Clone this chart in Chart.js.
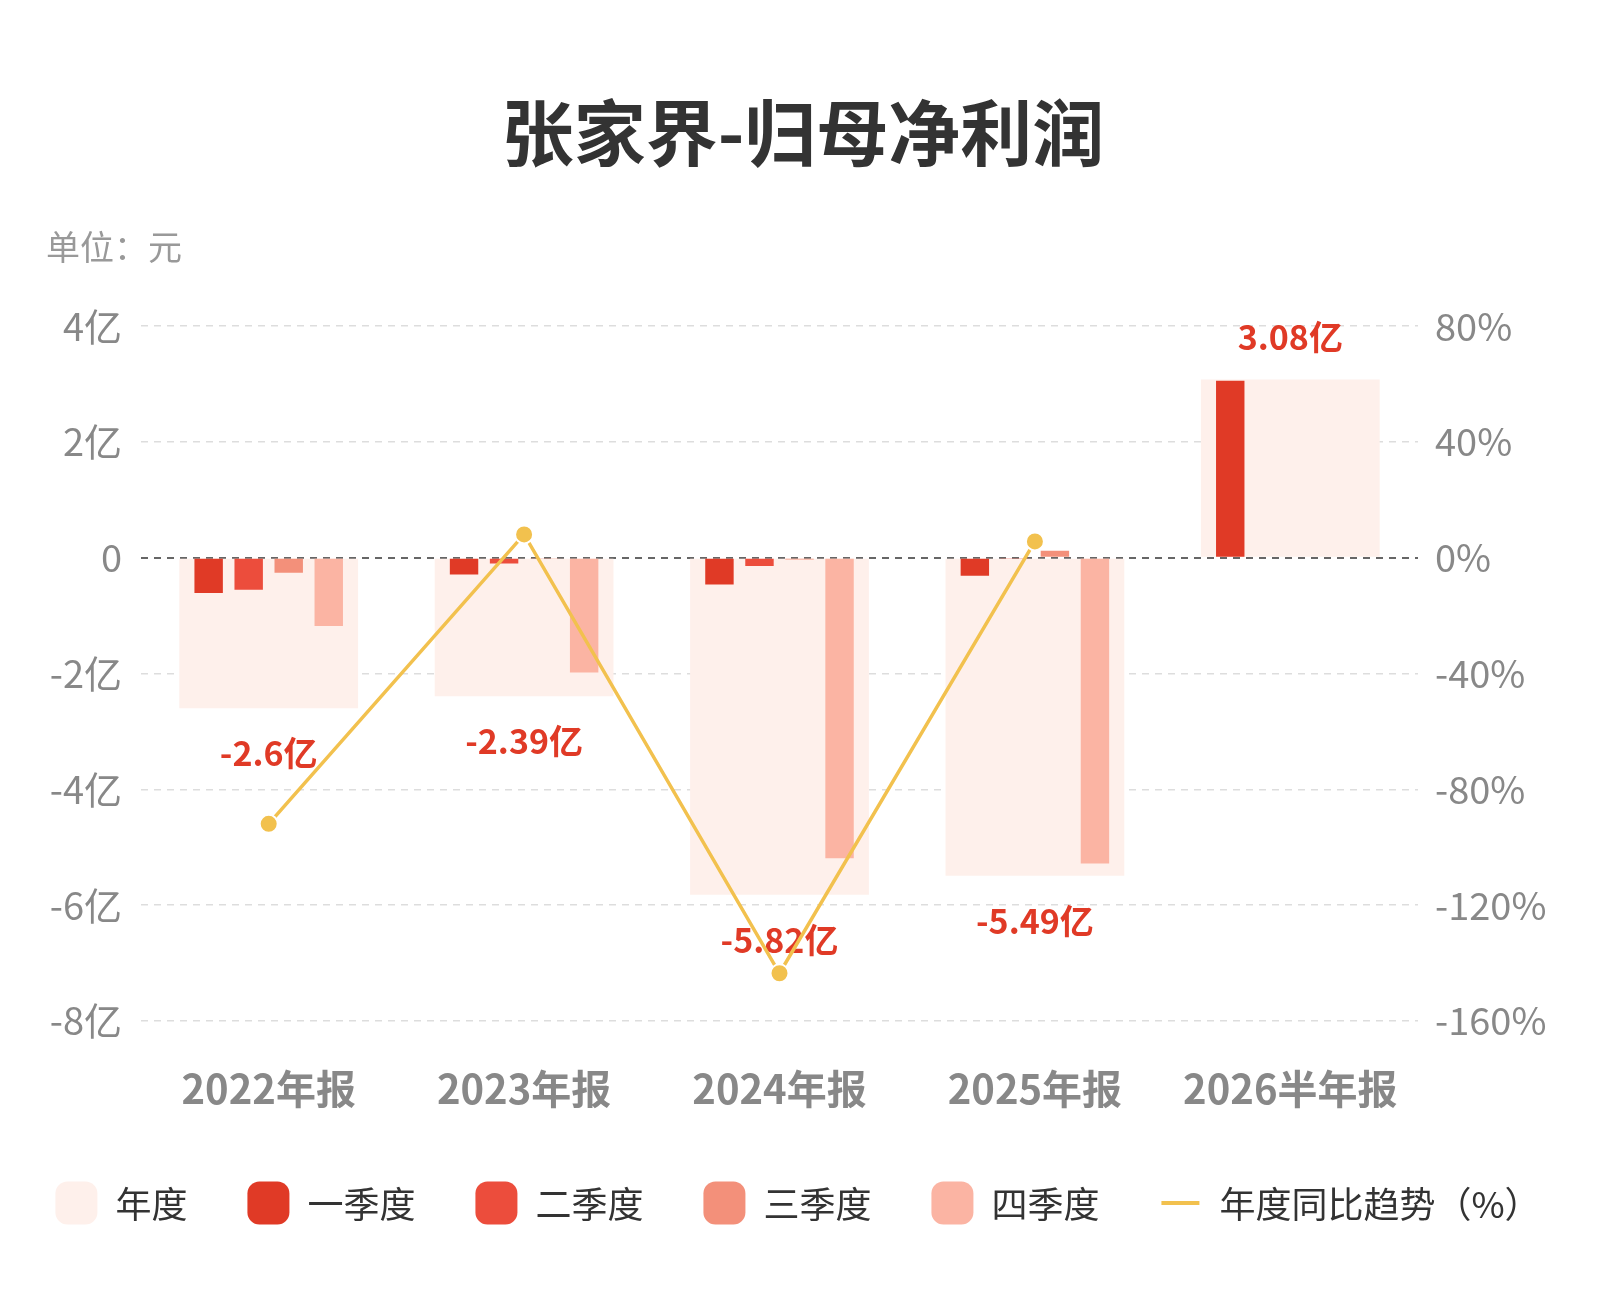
<!DOCTYPE html>
<html>
<head>
<meta charset="utf-8">
<script src="https://cdn.jsdelivr.net/npm/chart.js@4/dist/chart.umd.min.js"></script>
<style>
  html, body { margin: 0; padding: 0; background: #fff; }
  #wrap { width: 1600px; height: 1300px; }
</style>
</head>
<body>
<div id="wrap"><canvas id="chart" width="1600" height="1300"></canvas></div>
<script>
  'use strict';

  // 报告期
  var periods = ['2022年报', '2023年报', '2024年报', '2025年报', '2026半年报'];
  // 年度归母净利润（亿元）
  var annual = [-2.6, -2.39, -5.82, -5.49, 3.08];
  // 单季度（亿元）
  var q1 = [-0.61, -0.29, -0.46, -0.31, 3.06];
  var q2 = [-0.55, -0.10, -0.14, -0.02, 0.02];
  var q3 = [-0.26, -0.02, -0.03, 0.12, null];
  var q4 = [-1.18, -1.98, -5.19, -5.28, null];
  // 年度同比（%）
  var yoy = [-91.9, 8.08, -143.51, 5.67, null];

  var colors = {
    annual: '#fef0eb',
    q1: '#e03a26',
    q2: '#ec4d3c',
    q3: '#f3907a',
    q4: '#fbb4a3',
    line: '#f2c14e'
  };
  var FONT = '"Noto Sans CJK SC", "Noto Sans", sans-serif';

  // 年度数值标签
  var totalLabels = {
    id: 'totalLabels',
    afterDatasetDraw: function (chart, args) {
      if (args.index !== 0) return;
      var ctx = chart.ctx;
      var meta = chart.getDatasetMeta(0);
      ctx.save();
      ctx.font = 'bold 34px ' + FONT;
      ctx.fillStyle = colors.q1;
      ctx.textAlign = 'center';
      ctx.textBaseline = 'middle';
      meta.data.forEach(function (bar, i) {
        var v = annual[i];
        if (v === null) return;
        var y = v < 0 ? bar.y + 45 : bar.y - 42;
        ctx.fillText(v + '亿', bar.x, y);
      });
      ctx.restore();
    }
  };

  // 底部图例（一行）
  var bottomLegend = {
    id: 'bottomLegend',
    afterDraw: function (chart) {
      var ctx = chart.ctx;
      var sets = chart.data.datasets;
      var box = 42, gap = 18, spacing = 60, cy = 1203, cx = 798;
      ctx.save();
      ctx.font = '36px ' + FONT;
      var widths = sets.map(function (ds) {
        return box + gap + ctx.measureText(ds.label).width;
      });
      var total = widths.reduce(function (a, b) { return a + b; }, 0) + spacing * (sets.length - 1);
      var x = cx - total / 2;
      ctx.textBaseline = 'middle';
      ctx.textAlign = 'left';
      sets.forEach(function (ds, i) {
        if (ds.type === 'line') {
          ctx.strokeStyle = ds.borderColor;
          ctx.lineWidth = 4;
          ctx.beginPath();
          ctx.moveTo(x + 2, cy);
          ctx.lineTo(x + 40, cy);
          ctx.stroke();
        } else {
          ctx.fillStyle = ds.backgroundColor;
          ctx.beginPath();
          ctx.roundRect(x, cy - 21.5, box, 43, 12);
          ctx.fill();
        }
        ctx.fillStyle = '#333';
        ctx.fillText(ds.label, x + box + gap, cy + 1);
        x += widths[i] + spacing;
      });
      ctx.restore();
    }
  };

  var ctx = document.getElementById('chart').getContext('2d');
  window.profitChart = new Chart(ctx, {
    type: 'bar',
    data: {
      labels: periods,
      datasets: [
        {
          label: '年度',
          data: annual,
          backgroundColor: colors.annual,
          grouped: false,
          categoryPercentage: 1,
          barPercentage: 0.7,
          order: 3
        },
        { label: '一季度', data: q1, backgroundColor: colors.q1, order: 2 },
        { label: '二季度', data: q2, backgroundColor: colors.q2, order: 2 },
        { label: '三季度', data: q3, backgroundColor: colors.q3, order: 2 },
        { label: '四季度', data: q4, backgroundColor: colors.q4, order: 2 },
        {
          type: 'line',
          label: '年度同比趋势（%）',
          data: yoy,
          yAxisID: 'y1',
          borderColor: colors.line,
          backgroundColor: colors.line,
          borderWidth: 3.5,
          pointRadius: 9,
          pointBorderWidth: 2,
          pointBorderColor: '#fff',
          pointBackgroundColor: colors.line,
          spanGaps: false,
          order: 0
        }
      ]
    },
    options: {
      responsive: false,
      animation: false,
      devicePixelRatio: 1,
      datasets: {
        bar: {
          categoryPercentage: 0.627,
          barPercentage: 0.71
        }
      },
      layout: {
        padding: { left: 46, right: 40, top: 0, bottom: 151 }
      },
      scales: {
        x: {
          grid: { display: false },
          border: { display: false },
          ticks: {
            color: '#888',
            padding: 36,
            font: { family: FONT, size: 40, weight: 'bold' }
          }
        },
        y: {
          position: 'left',
          min: -8,
          max: 4,
          afterFit: function (scale) { scale.width = 95; },
          grid: {
            drawTicks: false,
            lineWidth: function (c) { return c.tick.value === 0 ? 2 : 1.5; },
            color: function (c) { return c.tick.value === 0 ? '#666' : '#dddddd'; }
          },
          border: { display: false, dash: [7, 6] },
          ticks: {
            stepSize: 2,
            padding: 19,
            color: '#888',
            font: { family: FONT, size: 38 },
            callback: function (v) { return v === 0 ? '0' : v + '亿'; }
          }
        },
        y1: {
          position: 'right',
          min: -160,
          max: 80,
          afterFit: function (scale) { scale.width = 142; },
          grid: { display: false, drawTicks: false },
          border: { display: false },
          ticks: {
            stepSize: 40,
            padding: 17,
            color: '#888',
            font: { family: FONT, size: 38 },
            callback: function (v) { return v + '%'; }
          }
        }
      },
      plugins: {
        title: {
          display: true,
          text: '张家界-归母净利润',
          color: '#333',
          font: { family: FONT, size: 72, weight: 'bold' },
          padding: { top: 89, bottom: 51 }
        },
        subtitle: {
          display: true,
          text: '单位：元',
          align: 'start',
          color: '#999',
          font: { family: FONT, size: 34 },
          padding: { top: 0, bottom: 59 }
        },
        legend: { display: false },
        tooltip: { enabled: false }
      }
    },
    plugins: [totalLabels, bottomLegend]
  });
</script>
</body>
</html>
